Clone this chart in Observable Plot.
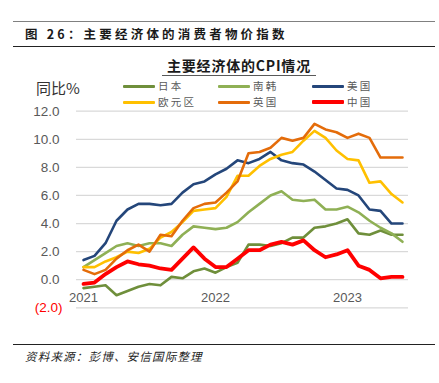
<!DOCTYPE html>
<html><head><meta charset="utf-8">
<script src="https://cdn.jsdelivr.net/npm/d3@7"></script>
<script src="https://cdn.jsdelivr.net/npm/@observablehq/plot@0.6"></script>
<style>
body{margin:0;background:#fff;}
#wrap{position:relative;width:439px;height:383px;overflow:hidden;background:#fff;font-family:"Noto Sans CJK SC","Liberation Sans",sans-serif;}
.abs{position:absolute;white-space:nowrap;}
#chart{position:absolute;left:0;top:100px;}
</style></head><body><div id="wrap"><div id="chart"></div></div>
<script>
const months = ["2021-01","2021-02","2021-03","2021-04","2021-05","2021-06","2021-07","2021-08","2021-09","2021-10","2021-11","2021-12",
  "2022-01","2022-02","2022-03","2022-04","2022-05","2022-06","2022-07","2022-08","2022-09","2022-10","2022-11","2022-12",
  "2023-01","2023-02","2023-03","2023-04","2023-05","2023-06"];
const yearTicks = ["2021-01","2022-01","2023-01"];
const yearLabels = ["2021","2022","2023"];
const yTicks = [-2,0,2,4,6,8,10,12];
const seriesNames = ["日本","南韩","美国","欧元区","英国","中国"];
const japan = [-0.6,-0.5,-0.4,-1.1,-0.8,-0.5,-0.3,-0.4,0.2,0.1,0.6,0.8, 0.5,0.9,1.2,2.5,2.5,2.4,2.6,3.0,3.0,3.7,3.8,4.0, 4.3,3.3,3.2,3.5,3.2,3.2];
const korea = [0.9,1.4,1.9,2.4,2.6,2.4,2.6,2.6,2.4,3.2,3.8,3.7, 3.6,3.7,4.1,4.8,5.4,6.0,6.3,5.7,5.6,5.7,5.0,5.0, 5.2,4.8,4.2,3.7,3.3,2.7];
const usa = [1.4,1.7,2.6,4.2,5.0,5.4,5.4,5.3,5.4,6.2,6.8,7.0, 7.5,7.9,8.5,8.3,8.6,9.1,8.5,8.3,8.2,7.7,7.1,6.5, 6.4,6.0,5.0,4.9,4.0,4.0];
const euro = [0.9,0.9,1.3,1.6,2.0,1.9,2.2,3.0,3.4,4.1,4.9,5.0, 5.1,5.9,7.4,7.4,8.1,8.6,8.9,9.1,9.9,10.6,10.1,9.2, 8.6,8.5,6.9,7.0,6.1,5.5];
const uk = [0.7,0.4,0.7,1.5,2.1,2.5,2.0,3.2,3.1,4.2,5.1,5.4, 5.5,6.2,7.0,9.0,9.1,9.4,10.1,9.9,10.1,11.1,10.7,10.5, 10.1,10.4,10.1,8.7,8.7,8.7];
const china = [-0.3,-0.2,0.4,0.9,1.3,1.1,1.0,0.8,0.7,1.5,2.3,1.5, 0.9,0.9,1.5,2.1,2.1,2.5,2.7,2.5,2.8,2.1,1.6,1.8, 2.1,1.0,0.7,0.1,0.2,0.2];
const seriesValues = [japan, korea, usa, euro, uk, china];
const colors = ["#6f8f3b","#8fb055","#24467a","#ffc000","#e46c0a","#ff0000"];
const widths = [2.6,2.6,2.6,2.6,2.6,3.8];

const lineMarks = seriesNames.map((name, s) =>
  Plot.line(seriesValues[s].map((v, i) => ({month: months[i], v})),
    {x: "month", y: "v", stroke: colors[s], strokeWidth: widths[s], strokeLinejoin: "round", strokeLinecap: "round"}));

const plot = Plot.plot({
  width: 439, height: 215,
  marginLeft: 76, marginRight: 31, marginTop: 10.7, marginBottom: 7.7,
  x: {type: "point", domain: months, padding: 0.5, axis: null},
  y: {domain: [-2, 12], label: null},
  style: {background: "transparent", fontFamily: "'Liberation Sans', Arial, sans-serif"},
  marks: [
    Plot.gridY(yTicks, {stroke: "#d9d9d9", strokeOpacity: 1, strokeWidth: 1.3}),
    Plot.axisY(yTicks.filter(t => t >= 0), {tickSize: 0, tickPadding: 17, tickFormat: d => d.toFixed(1), fontSize: 13.5, fill: "#595959", color: "#595959", label: null}),
    Plot.axisY(yTicks.filter(t => t < 0), {tickSize: 0, tickPadding: 14, tickFormat: d => `(${Math.abs(d).toFixed(1)})`, fontSize: 13.5, fill: "#ff0000", color: "#ff0000", label: null}),
    Plot.text(yearTicks, {x: d => d, y: () => 0, text: (d, i) => yearLabels[i], dy: 18, fontSize: 13, fill: "#595959"}),
    ...lineMarks
  ]
});
document.getElementById("chart").appendChild(plot);

const wrap = document.getElementById("wrap");
function add(html, css) {
  const d = document.createElement("div");
  d.className = "abs";
  d.innerHTML = html;
  Object.assign(d.style, css);
  wrap.appendChild(d);
  return d;
}
// header rules and title
add("", {left: "13px", top: "21px", width: "422px", height: "0", borderTop: "1.5px solid #808080"});
add("图 26：主要经济体的消费者物价指数", {left: "25px", top: "24px", height: "20px", lineHeight: "20px", fontSize: "12.5px", fontWeight: "bold", letterSpacing: "3.2px", color: "#1a1a1a"});
add("", {left: "13px", top: "46px", width: "422px", height: "0", borderTop: "1px solid #222"});
// chart title
add("主要经济体的CPI情况", {left: "162px", top: "55px", width: "154px", textAlign: "center", height: "20px", lineHeight: "20px", fontSize: "14px", fontWeight: "bold", letterSpacing: "0.8px", color: "#1a1a1a"});
add("", {left: "162px", top: "75px", width: "154px", height: "0", borderTop: "1px solid #595959"});
// unit label
add("同比%", {left: "36px", top: "78px", height: "20px", lineHeight: "20px", fontSize: "15px", color: "#333"});
// legend
const legendPos = [[123, 86], [218, 86], [312, 86], [123, 102], [218, 102], [312, 102]];
seriesNames.forEach((name, s) => {
  const [lx, ly] = legendPos[s];
  const w = widths[s] + 0.4;
  add("", {left: lx + "px", top: (ly - w / 2) + "px", width: "32px", height: w + "px", background: colors[s], borderRadius: "1px"});
  add(name, {left: (lx + 35) + "px", top: (ly - 10) + "px", height: "20px", lineHeight: "20px", fontSize: "10.5px", letterSpacing: "2.2px", color: "#595959"});
});
// footer
add("", {left: "13px", top: "344px", width: "422px", height: "0", borderTop: "1px solid #222"});
add("资料来源：彭博、安信国际整理", {left: "25px", top: "346px", height: "20px", lineHeight: "20px", fontSize: "11.5px", fontStyle: "italic", letterSpacing: "1.2px", color: "#222"});
</script>
</body></html>
